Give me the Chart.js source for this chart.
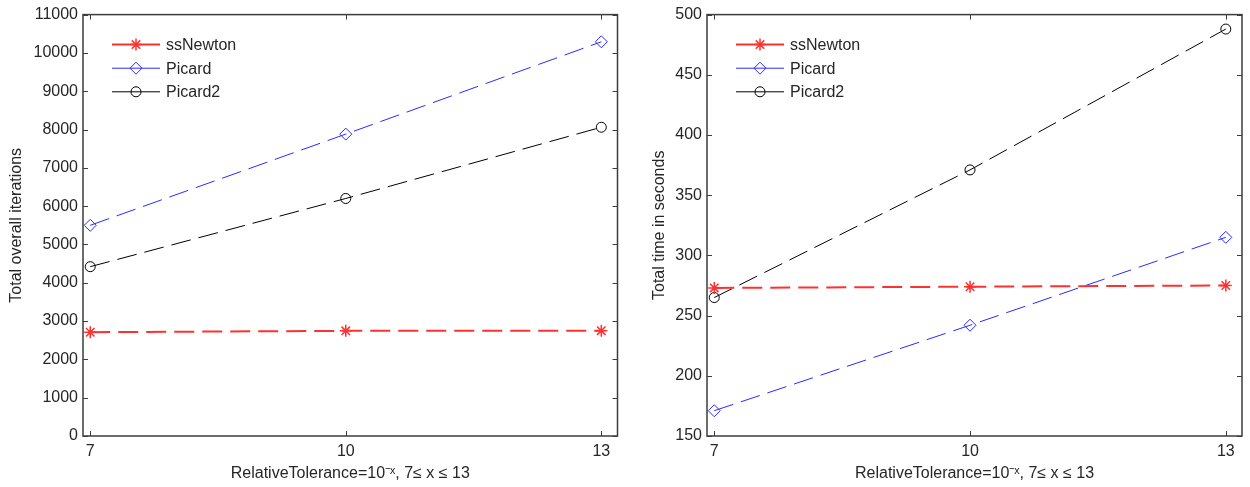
<!DOCTYPE html>
<html lang="en">
    <head>
        <meta charset="UTF-8" />
        <title>ssNewton vs Picard</title>
        <script src="https://cdn.jsdelivr.net/npm/chart.js"></script>
        <style>
            body { margin: 0; background: #fff; }
            .panel { position: absolute; top: 0; width: 625px; height: 487px; }
        </style>
    </head>
    <body>
        <div class="panel" style="left:0"><canvas id="iters" width="625" height="487"></canvas></div>
        <div class="panel" style="left:625px"><canvas id="times" width="625" height="487"></canvas></div>

        <script>
            // x = exponent of the relative tolerance
            const tolerances = [7, 10, 13];
            const seriesNames = ["ssNewton", "Picard", "Picard2"];

            // left panel: total overall iterations
            const itersNewton = [2710, 2745, 2750];
            const itersPicard = [5500, 7880, 10290];
            const itersPicard2 = [4420, 6200, 8060];

            // right panel: total time in seconds
            const timeNewton = [273, 274, 275];
            const timePicard = [171, 242, 315];
            const timePicard2 = [265, 371, 488];

            const FONT = "'Liberation Sans', Arial, sans-serif";
            const TEXT = "#262626";
            const AXIS = "#3c3c3c";

            const styles = [
                { color: "#ff3030", width: 2, marker: "star", r: 6 },
                { color: "#2a2aff", width: 1, marker: "rectRot", r: 6 },
                { color: "#000000", width: 1, marker: "circle", r: 5 },
            ];

            function toPoints(ys) {
                return tolerances.map((x, i) => ({ x: x, y: ys[i] }));
            }

            // box round the plot and MATLAB style inward ticks
            const boxTicks = {
                id: "boxTicks",
                afterDatasetsDraw(chart) {
                    const { ctx, chartArea: a, scales } = chart;
                    ctx.save();
                    ctx.strokeStyle = AXIS;
                    ctx.lineWidth = 1.5;
                    ctx.strokeRect(a.left, a.top, a.right - a.left, a.bottom - a.top);
                    ctx.lineWidth = 1;
                    ctx.beginPath();
                    scales.x.ticks.forEach((t) => {
                        const px = Math.round(scales.x.getPixelForValue(t.value)) + 0.5;
                        ctx.moveTo(px, a.bottom); ctx.lineTo(px, a.bottom - 5);
                        ctx.moveTo(px, a.top); ctx.lineTo(px, a.top + 5);
                    });
                    scales.y.ticks.forEach((t) => {
                        const py = Math.round(scales.y.getPixelForValue(t.value)) + 0.5;
                        ctx.moveTo(a.left, py); ctx.lineTo(a.left + 5, py);
                        ctx.moveTo(a.right, py); ctx.lineTo(a.right - 5, py);
                    });
                    ctx.stroke();
                    ctx.restore();
                },
            };

            function drawMarker(ctx, kind, x, y, r) {
                ctx.beginPath();
                if (kind === "circle") {
                    ctx.arc(x, y, r, 0, Math.PI * 2);
                } else if (kind === "rectRot") {
                    ctx.moveTo(x, y - r); ctx.lineTo(x + r, y);
                    ctx.lineTo(x, y + r); ctx.lineTo(x - r, y);
                    ctx.closePath();
                } else {
                    const d = r * Math.SQRT1_2;
                    ctx.moveTo(x - r, y); ctx.lineTo(x + r, y);
                    ctx.moveTo(x, y - r); ctx.lineTo(x, y + r);
                    ctx.moveTo(x - d, y - d); ctx.lineTo(x + d, y + d);
                    ctx.moveTo(x - d, y + d); ctx.lineTo(x + d, y - d);
                }
                ctx.stroke();
            }

            // legend drawn MATLAB style: line with the marker in the middle
            const innerLegend = {
                id: "innerLegend",
                afterDraw(chart) {
                    const { ctx, chartArea: a } = chart;
                    ctx.save();
                    ctx.font = "16px " + FONT;
                    ctx.textBaseline = "middle";
                    chart.data.datasets.forEach((ds, i) => {
                        const s = styles[i];
                        const y = a.top + 30 + i * 23.6;
                        const x0 = a.left + 29;
                        ctx.strokeStyle = s.color;
                        ctx.lineWidth = s.width;
                        ctx.beginPath();
                        ctx.moveTo(x0, y); ctx.lineTo(x0 + 48, y);
                        ctx.stroke();
                        ctx.lineWidth = s.marker === "star" ? 1.5 : 1;
                        drawMarker(ctx, s.marker, x0 + 24, y, s.r);
                        ctx.fillStyle = TEXT;
                        ctx.fillText(ds.label, x0 + 54, y + 1);
                    });
                    ctx.restore();
                },
            };

            function makeChart(id, series, yMin, yMax, yStep, yTitle, yWidth, titlePad, rightPad) {
                const ctx = document.getElementById(id).getContext("2d");
                return new Chart(ctx, {
                    type: "line",
                    data: {
                        datasets: series.map((ys, i) => ({
                            label: seriesNames[i],
                            data: toPoints(ys),
                            borderColor: styles[i].color,
                            borderWidth: styles[i].width,
                            borderDash: [20, 8],
                            pointStyle: styles[i].marker,
                            pointRadius: styles[i].r,
                            pointBorderColor: styles[i].color,
                            pointBorderWidth: styles[i].marker === "star" ? 1.5 : 1,
                            pointBackgroundColor: "rgba(0,0,0,0)",
                            tension: 0,
                            fill: false,
                        })),
                    },
                    options: {
                        responsive: false,
                        animation: false,
                        layout: { padding: { top: 14, right: rightPad, left: 0, bottom: 0 } },
                        plugins: {
                            legend: { display: false },
                            tooltip: { enabled: false },
                        },
                        scales: {
                            x: {
                                type: "linear",
                                min: 6.915,
                                max: 13.19,
                                afterBuildTicks: (scale) => {
                                    scale.ticks = tolerances.map((v) => ({ value: v }));
                                },
                                afterFit: (scale) => { scale.height = 51; },
                                grid: { display: false, drawTicks: false },
                                border: { display: false },
                                ticks: {
                                    color: TEXT,
                                    padding: 6,
                                    maxRotation: 0,
                                    callback: (v) => String(v),
                                    font: { family: FONT, size: 16 },
                                },
                                title: {
                                    display: true,
                                    text: "RelativeTolerance=10\u207B\u02E3, 7\u2264 x \u2264 13",
                                    color: TEXT,
                                    padding: { top: 0, bottom: 4 },
                                    font: { family: FONT, size: 16 },
                                },
                            },
                            y: {
                                min: yMin,
                                max: yMax,
                                afterFit: (scale) => { scale.width = yWidth; },
                                grid: { display: false, drawTicks: false },
                                border: { display: false },
                                ticks: {
                                    stepSize: yStep,
                                    color: TEXT,
                                    padding: 5,
                                    callback: (v) => String(v),
                                    font: { family: FONT, size: 16 },
                                },
                                title: {
                                    display: true,
                                    text: yTitle,
                                    color: TEXT,
                                    padding: { top: titlePad, bottom: 0 },
                                    font: { family: FONT, size: 16 },
                                },
                            },
                        },
                    },
                    plugins: [boxTicks, innerLegend],
                });
            }

            makeChart("iters", [itersNewton, itersPicard, itersPicard2],
                0, 11000, 1000, "Total overall iterations", 83, 7, 7);
            makeChart("times", [timeNewton, timePicard, timePicard2],
                150, 500, 50, "Total time in seconds", 82, 25, 8);
        </script>
    </body>
</html>
